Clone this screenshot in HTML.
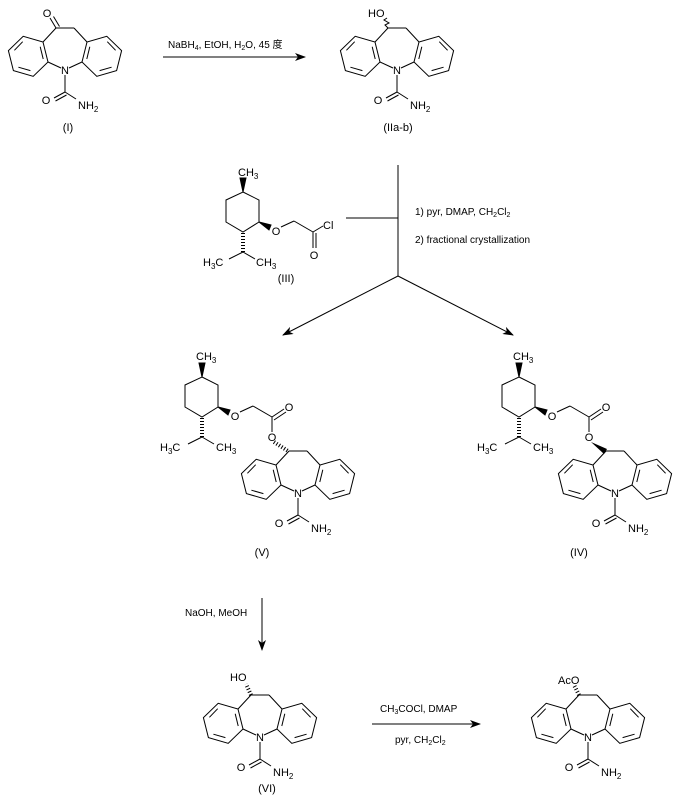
<!DOCTYPE html>
<html><head><meta charset="utf-8"><style>
html,body{margin:0;padding:0;background:#fff;}
svg{display:block;}
text{font-family:"Liberation Sans","Noto Sans CJK SC",sans-serif;font-size:11px;fill:#000;}
.r{font-size:10px;}
</style></head><body>
<svg width="684" height="800" viewBox="0 0 684 800" xmlns="http://www.w3.org/2000/svg">
<defs>
<marker id="ah" markerUnits="userSpaceOnUse" markerWidth="11" markerHeight="8" refX="10" refY="4" orient="auto"><path d="M0,0 L11,4 L0,8 L3,4 z" fill="#000"/></marker>
<g id="half" stroke="#000" stroke-width="1" fill="none">
<line x1="-4" y1="-2" x2="-17" y2="-8"/>
<polygon points="-17,-8 -22,-28 -41.8,-33.7 -56.6,-19.4 -51.6,0.6 -31.8,6.3"/>
<line x1="-21.8" y1="-11" x2="-24.8" y2="-23.2"/>
<line x1="-42.3" y1="-28.3" x2="-50.6" y2="-19.7"/>
<line x1="-46.6" y1="-2.8" x2="-34.6" y2="0.6"/>
<line x1="-22" y1="-28" x2="-9" y2="-42"/>
</g>
<g id="dbz" stroke="#000" stroke-width="1" fill="none">
<use href="#half"/><use href="#half" transform="scale(-1,1)"/>
<line x1="-9" y1="-42" x2="9" y2="-42"/>
<line x1="0" y1="5" x2="0" y2="22"/>
<line x1="0" y1="22" x2="-11" y2="28"/>
<line x1="1.5" y1="25" x2="-9.5" y2="31"/>
<line x1="0" y1="22" x2="11" y2="29"/>
</g>
<g id="menth" stroke="#000" stroke-width="1" fill="none">
<polygon points="202,377 218,385 218,407 202,417 185,407 185,385"/>
<polygon points="202,377 199,363 205,363" fill="#000"/>
<polygon points="218,407 230,410 228,415" fill="#000"/>
<line x1="240" y1="412" x2="253" y2="406"/>
<line x1="253" y1="406" x2="272" y2="417"/>
<line x1="202" y1="418" x2="202" y2="437" stroke-width="4" stroke-dasharray="1 2"/>
<line x1="202" y1="437" x2="188" y2="444"/>
<line x1="202" y1="437" x2="214" y2="444"/>
</g>
</defs>

<!-- (I) -->
<use href="#dbz" transform="translate(65,70)"/>
<g stroke="#000" fill="none"><line x1="56" y1="28" x2="50" y2="18"/><line x1="59.5" y1="26.5" x2="53.5" y2="16.5"/></g>
<text x="47" y="17" text-anchor="middle">O</text>
<text x="65" y="74" text-anchor="middle">N</text>
<text x="46" y="104" text-anchor="middle">O</text>
<text x="78" y="109">NH<tspan font-size="8" dy="3">2</tspan></text>
<text x="68" y="131" text-anchor="middle">(I)</text>

<!-- arrow 1 -->
<line x1="163" y1="57" x2="305" y2="57" stroke="#000" marker-end="url(#ah)"/>
<text class="r" x="168" y="48">NaBH<tspan font-size="7" dy="2">4</tspan><tspan dy="-2">, EtOH, H</tspan><tspan font-size="7" dy="2">2</tspan><tspan dy="-2">O, 45 度</tspan></text>

<!-- (IIa-b) -->
<use href="#dbz" transform="translate(397,70)"/>
<polyline points="388,28 385,25 389,23 384,20 387,18" stroke="#000" fill="none"/>
<text x="368" y="17">HO</text>
<text x="397" y="74" text-anchor="middle">N</text>
<text x="378" y="104" text-anchor="middle">O</text>
<text x="410" y="109">NH<tspan font-size="8" dy="3">2</tspan></text>
<text x="398" y="131" text-anchor="middle">(IIa-b)</text>

<!-- (III) -->
<use href="#menth" transform="translate(41,-185)"/>
<g stroke="#000" fill="none">
<line x1="313" y1="232" x2="323" y2="226"/>
<line x1="313" y1="232" x2="313" y2="248"/><line x1="316" y1="233" x2="316" y2="248"/>
</g>
<text x="238" y="176">CH<tspan font-size="8" dy="3">3</tspan></text>
<text x="276" y="235" text-anchor="middle">O</text>
<text x="323" y="229">Cl</text>
<text x="314" y="259" text-anchor="middle">O</text>
<text x="203" y="266">H<tspan font-size="8" dy="3">3</tspan><tspan dy="-3">C</tspan></text>
<text x="256" y="266">CH<tspan font-size="8" dy="3">3</tspan></text>
<text x="286" y="282" text-anchor="middle">(III)</text>

<!-- split arrows -->
<g stroke="#000" fill="none">
<line x1="398" y1="165" x2="398" y2="276"/>
<line x1="346" y1="218" x2="398" y2="218"/>
<line x1="398" y1="276" x2="283" y2="335" marker-end="url(#ah)"/>
<line x1="398" y1="276" x2="513" y2="335" marker-end="url(#ah)"/>
</g>
<text class="r" x="415" y="215">1) pyr, DMAP, CH<tspan font-size="7" dy="2">2</tspan><tspan dy="-2">Cl</tspan><tspan font-size="7" dy="2">2</tspan></text>
<text class="r" x="415" y="243">2) fractional crystallization</text>

<!-- (V) -->
<use href="#menth"/>
<g stroke="#000" fill="none">
<line x1="272" y1="417" x2="284" y2="409"/><line x1="274" y1="420" x2="286" y2="412"/>
<line x1="272" y1="417" x2="272" y2="432"/>
<line x1="274" y1="442" x2="288" y2="451" stroke-width="4" stroke-dasharray="1 2"/>
</g>
<use href="#dbz" transform="translate(298,493)"/>
<text x="196" y="360">CH<tspan font-size="8" dy="3">3</tspan></text>
<text x="235" y="420" text-anchor="middle">O</text>
<text x="289" y="411" text-anchor="middle">O</text>
<text x="272" y="441" text-anchor="middle">O</text>
<text x="160" y="451">H<tspan font-size="8" dy="3">3</tspan><tspan dy="-3">C</tspan></text>
<text x="216" y="451">CH<tspan font-size="8" dy="3">3</tspan></text>
<text x="298" y="497" text-anchor="middle">N</text>
<text x="279" y="527" text-anchor="middle">O</text>
<text x="311" y="532">NH<tspan font-size="8" dy="3">2</tspan></text>
<text x="262" y="556" text-anchor="middle">(V)</text>

<!-- (IV) -->
<g transform="translate(317,0)">
<use href="#menth"/>
<g stroke="#000" fill="none">
<line x1="272" y1="417" x2="284" y2="409"/><line x1="274" y1="420" x2="286" y2="412"/>
<line x1="272" y1="417" x2="272" y2="432"/>
</g>
<polygon points="274,442 290,449 287,454" fill="#000"/>
<use href="#dbz" transform="translate(298,493)"/>
<text x="196" y="360">CH<tspan font-size="8" dy="3">3</tspan></text>
<text x="235" y="420" text-anchor="middle">O</text>
<text x="289" y="411" text-anchor="middle">O</text>
<text x="272" y="441" text-anchor="middle">O</text>
<text x="160" y="451">H<tspan font-size="8" dy="3">3</tspan><tspan dy="-3">C</tspan></text>
<text x="216" y="451">CH<tspan font-size="8" dy="3">3</tspan></text>
<text x="298" y="497" text-anchor="middle">N</text>
<text x="279" y="527" text-anchor="middle">O</text>
<text x="311" y="532">NH<tspan font-size="8" dy="3">2</tspan></text>
<text x="262" y="556" text-anchor="middle">(IV)</text>
</g>

<!-- arrow down -->
<line x1="262" y1="598" x2="262" y2="650" stroke="#000" marker-end="url(#ah)"/>
<text class="r" x="185" y="616">NaOH, MeOH</text>

<!-- (VI) -->
<use href="#dbz" transform="translate(260,737)"/>
<line x1="251" y1="695" x2="246" y2="684" stroke="#000" stroke-width="4" stroke-dasharray="1 2"/>
<text x="230" y="681">HO</text>
<text x="260" y="741" text-anchor="middle">N</text>
<text x="241" y="771" text-anchor="middle">O</text>
<text x="273" y="776">NH<tspan font-size="8" dy="3">2</tspan></text>
<text x="267" y="792" text-anchor="middle">(VI)</text>

<!-- arrow right -->
<line x1="372" y1="724" x2="480" y2="724" stroke="#000" marker-end="url(#ah)"/>
<text class="r" x="380" y="712">CH<tspan font-size="7" dy="2">3</tspan><tspan dy="-2">COCl, DMAP</tspan></text>
<text class="r" x="395" y="743">pyr, CH<tspan font-size="7" dy="2">2</tspan><tspan dy="-2">Cl</tspan><tspan font-size="7" dy="2">2</tspan></text>

<!-- product -->
<use href="#dbz" transform="translate(588,737)"/>
<line x1="579" y1="695" x2="574" y2="685" stroke="#000" stroke-width="4" stroke-dasharray="1 2"/>
<text x="558" y="684">AcO</text>
<text x="588" y="741" text-anchor="middle">N</text>
<text x="569" y="771" text-anchor="middle">O</text>
<text x="601" y="776">NH<tspan font-size="8" dy="3">2</tspan></text>
</svg>
</body></html>
